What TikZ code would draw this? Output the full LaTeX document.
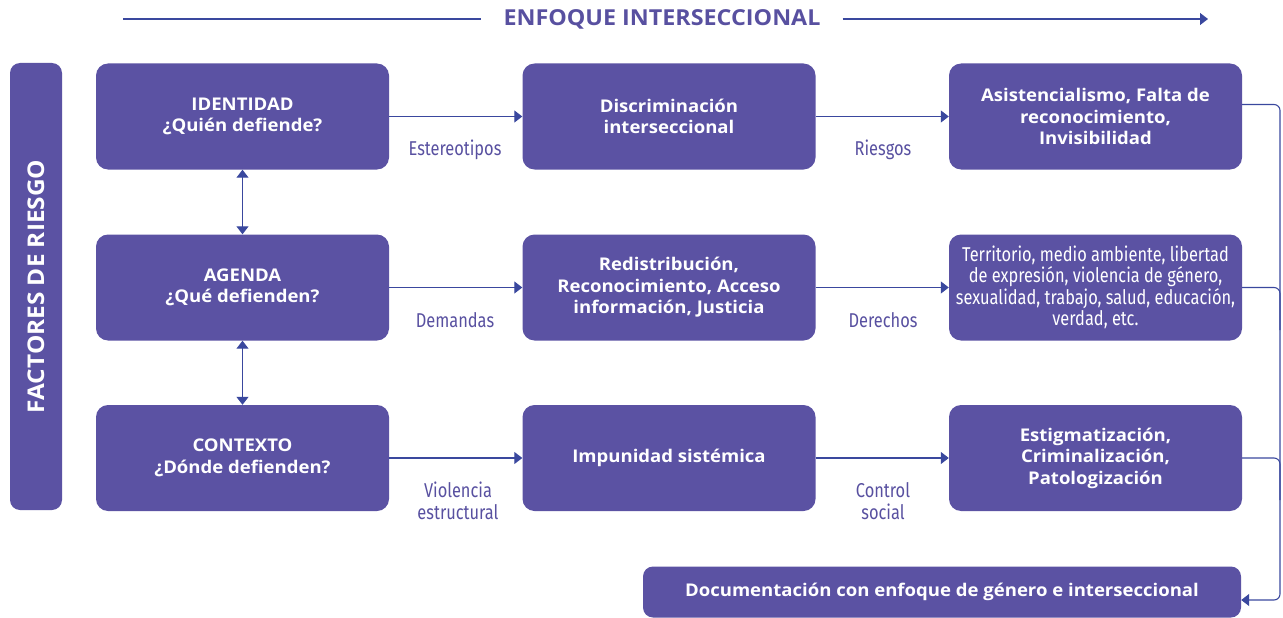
\documentclass[tikz,border=0pt]{standalone}
\usepackage{fontspec}
\setmainfont{Open Sans}[FakeStretch=1.06]
\newfontfamily\condfont[FakeStretch=0.82]{Fira Sans}
\usetikzlibrary{arrows.meta}
\definecolor{boxc}{RGB}{91,82,163}
\definecolor{linec}{RGB}{58,72,158}
\definecolor{labc}{RGB}{88,80,160}
\tikzset{
  box/.style={fill=boxc, rounded corners=12pt, text=white, align=center,
    font=\fontsize{17.5}{21.5}\selectfont\bfseries, minimum width=293pt, minimum height=106pt, inner sep=0pt},
  conn/.style={draw=linec, line width=1.1pt, -{Triangle[length=8pt,width=12pt]}},
  dconn/.style={draw=linec, line width=1.1pt, {Triangle[length=8pt,width=12pt]}-{Triangle[length=8pt,width=12pt]}},
  bus/.style={draw=linec, line width=1.1pt, rounded corners=6pt},
  lab/.style={text=labc, align=center, font=\condfont\fontsize{20}{22}\selectfont},
}
\begin{document}
\begin{tikzpicture}[x=1pt,y=-1pt]
\useasboundingbox (0,0) rectangle (1283,618);
% title
\node[text=labc, font=\fontsize{22}{24}\selectfont\bfseries, inner xsep=22pt, inner ysep=0pt] (title) at (662,19) {ENFOQUE INTERSECCIONAL};
\coordinate (tl) at (123,19);
\coordinate (tr) at (1208,19);
\draw[draw=linec, line width=1.1pt] (tl) -- (title.west);
\draw[conn] (title.east) -- (tr);
% left bar
\node[box, minimum width=52pt, minimum height=447pt, rounded corners=10pt] (bar) at (36,286.5) {};
\node[rotate=90, text=white, font=\fontsize{23}{25}\selectfont\bfseries] (bartxt) at (bar.center) {FACTORES DE RIESGO};
% column 1
\node[box] (id) at (242.5,116.5) {IDENTIDAD\\¿Quién defiende?};
\node[box] (ag) at (242.5,287.5) {AGENDA\\¿Qué defienden?};
\node[box] (ct) at (242.5,458) {CONTEXTO\\¿Dónde defienden?};
% column 2
\node[box] (disc) at (669,116.5) {Discriminación\\interseccional};
\node[box] (redis) at (669,287.5) {Redistribución,\\Reconocimiento, Acceso\\información, Justicia};
\node[box] (imp) at (669,458) {Impunidad sistémica};
% column 3
\node[box] (asis) at (1095.5,116.5) {Asistencialismo, Falta de\\reconocimiento,\\Invisibilidad};
\node[box, font=\condfont\fontsize{20}{21.5}\selectfont] (terr) at (1095.5,287.5) {Territorio, medio ambiente, libertad\\de expresión, violencia de género,\\sexualidad, trabajo, salud, educación,\\verdad, etc.};
\node[box] (estig) at (1095.5,458) {Estigmatización,\\Criminalización,\\Patologización};
% bottom
\node[box, minimum width=598pt, minimum height=51pt, rounded corners=10pt] (doc) at (942,592) {Documentación con enfoque de género e interseccional};
% horizontal connectors
\draw[conn] (id.east) -- (disc.west);
\draw[conn] (disc.east) -- (asis.west);
\draw[conn] (ag.east) -- (redis.west);
\draw[conn] (redis.east) -- (terr.west);
\draw[conn] (ct.east) -- (imp.west);
\draw[conn] (imp.east) -- (estig.west);
% labels
\node[lab] (l1) at (455,150) {Estereotipos};
\node[lab] (l2) at (883,150) {Riesgos};
\node[lab] (l3) at (455,320) {Demandas};
\node[lab] (l4) at (883,320) {Derechos};
\node[lab] (l5) at (458,501) {Violencia\\estructural};
\node[lab] (l6) at (883,501) {Control\\social};
% vertical double arrows
\draw[dconn] (id.south) -- (ag.north);
\draw[dconn] (ag.south) -- (ct.north);
% right bus
\coordinate (bmid) at (1280,350);
\coordinate (b2) at (1280,330);
\coordinate (b3) at (1280,500);
\draw[bus, -{Triangle[length=8pt,width=12pt]}] ([yshift=12pt]asis.east) -| (bmid) |- ([yshift=-8pt]doc.east);
\draw[bus] (terr.east) -| (b2);
\draw[bus] (estig.east) -| (b3);
\end{tikzpicture}
\end{document}
